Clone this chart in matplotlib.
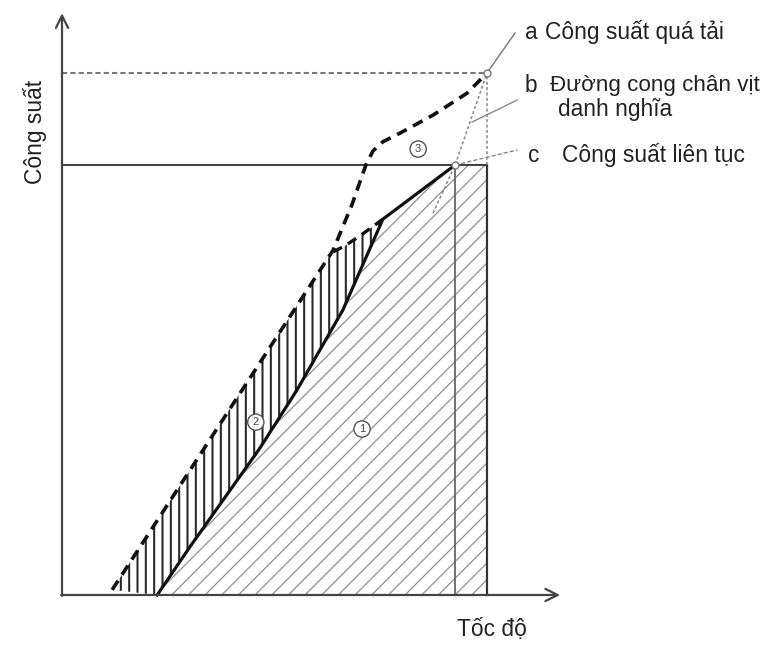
import matplotlib
matplotlib.use("Agg")
import matplotlib.pyplot as plt
import numpy as np

# ---------------- data (speed %, power %) ----------------
overload_x = [11.8, 63.8, 68.2, 71.5, 73.2, 75.5, 79.5, 87.3, 95.3, 100.0]
overload_y = [1.2, 80.2, 90.7, 100.0, 103.3, 105.4, 107.4, 111.6, 116.7, 121.4]

branch_x = [63.8, 66.6, 70.8, 75.5]
branch_y = [79.8, 81.2, 84.0, 87.4]

engine_x = [22.4, 30.1, 46.6, 55.3, 66.1, 75.5, 92.5]
engine_y = [0.0, 11.2, 34.2, 47.7, 66.3, 87.4, 100.0]

prop_x = [87.3, 92.5, 100.0]
prop_y = [88.8, 100.0, 121.4]

continuous_power = 100.0
overload_power = 121.4
rated_speed = 100.0
continuous_speed = 92.5

label_a = "Công suất quá tải"
label_b1 = "Đường cong chân vịt"
label_b2 = "danh nghĩa"
label_c = "Công suất liên tục"
ylabel = "Công suất"
xlabel = "Tốc độ"

plt.rcParams['font.family'] = ['Liberation Sans', 'DejaVu Sans']

fig = plt.figure(figsize=(7.64, 6.45), dpi=100)
ax = fig.add_axes([0, 0, 1, 1])
ax.set_xlim(-14.59, 165.18)
ax.set_ylim(-11.63, 138.37)
ax.axis('off')

# ---------------- hatched regions ----------------
r1x = engine_x + [rated_speed, rated_speed]
r1y = engine_y + [continuous_power, 0.0]
with plt.rc_context({'hatch.linewidth': 0.9}):
    p1 = ax.fill(r1x, r1y, facecolor='none', edgecolor='#909090', hatch='//', linewidth=0)[0]
    if hasattr(p1, 'set_hatch_linewidth'):
        p1.set_hatch_linewidth(0.9)

i_knee = 1
r2x = overload_x[:i_knee + 1] + branch_x[1:] + engine_x[:-1][::-1]
r2y = overload_y[:i_knee + 1] + branch_y[1:] + engine_y[:-1][::-1]
with plt.rc_context({'hatch.linewidth': 1.5}):
    p2 = ax.fill(r2x, r2y, facecolor='none', edgecolor='#2a2a2a', hatch='||', linewidth=0)[0]
    if hasattr(p2, 'set_hatch_linewidth'):
        p2.set_hatch_linewidth(1.5)

# ---------------- reference lines ----------------
ax.plot([0, rated_speed], [continuous_power, continuous_power], color='#444444', lw=1.5)
ax.plot([rated_speed, rated_speed], [0, continuous_power], color='#333333', lw=1.6)
ax.plot([continuous_speed, continuous_speed], [0, continuous_power], color='#666666', lw=1.3)
ax.plot([0, rated_speed], [overload_power, overload_power], color='#777777', lw=1.5,
        linestyle=(0, (2.5, 1.5)))
ax.plot([rated_speed, rated_speed], [continuous_power, overload_power], color='#888888',
        lw=1.1, linestyle=(0, (2, 1.5)))

# propeller curve b
ax.plot(prop_x, prop_y, color='#888888', lw=1.1, linestyle=(0, (2, 1.5)))

# overload curve a (dashed) and branch
ax.plot(overload_x, overload_y, color='#111111', lw=2.6, linestyle=(0, (3, 2)))
ax.plot(branch_x, branch_y, color='#111111', lw=2.4, linestyle=(0, (3, 2)))

# engine curve (solid)
ax.plot(engine_x, engine_y, color='#111111', lw=2.3)

# leader lines
ax.plot([rated_speed, 106.6], [overload_power, 130.7], color='#777777', lw=1.0)
ax.plot([96.5, 107.1], [110.0, 115.1], color='#888888', lw=1.0)
ax.plot([continuous_speed, 107.1], [continuous_power, 103.5], color='#888888', lw=1.0,
        linestyle=(0, (3, 1.5)))

# small circle markers
ax.plot([rated_speed, continuous_speed], [overload_power, continuous_power], 'o',
        ms=5, mfc='white', mec='#777777', mew=1.0)

# ---------------- axes arrows ----------------
ax.annotate('', xy=(0, 135.3), xytext=(0, -0.2),
            arrowprops=dict(arrowstyle='->', lw=1.6, color='#444444',
                            mutation_scale=22, shrinkA=0, shrinkB=0))
ax.annotate('', xy=(117.2, 0), xytext=(-0.2, 0),
            arrowprops=dict(arrowstyle='->', lw=1.6, color='#444444',
                            mutation_scale=22, shrinkA=0, shrinkB=0))

# ---------------- circled region numbers ----------------
circ = dict(boxstyle='circle,pad=0.28', fc='white', ec='#555555', lw=1.0)
ax.text(83.8, 103.7, '3', fontsize=8, ha='center', va='center', bbox=circ, color='#444444')
ax.text(45.6, 40.2, '2', fontsize=8, ha='center', va='center', bbox=circ, color='#444444')
ax.text(70.6, 38.6, '1', fontsize=8, ha='center', va='center', bbox=circ, color='#444444')

# ---------------- texts ----------------
fs = 16.4
tc = '#222222'
ax.text(-6.35, 107.7, ylabel, rotation=90, fontsize=fs, ha='center', va='center', color=tc)
ax.text(101.2, -8.1, xlabel, fontsize=fs, ha='center', va='center', color=tc)

ax.text(108.9, 130.9, 'a', fontsize=fs, ha='left', va='center', color=tc)
ax.text(113.6, 130.9, label_a, fontsize=fs, ha='left', va='center', color=tc)
ax.text(108.9, 118.6, 'b', fontsize=fs, ha='left', va='center', color=tc)
ax.text(114.9, 118.6, label_b1, fontsize=16.1, ha='left', va='center', color=tc)
ax.text(116.7, 112.8, label_b2, fontsize=fs, ha='left', va='center', color=tc)
ax.text(109.6, 102.3, 'c', fontsize=fs, ha='left', va='center', color=tc)
ax.text(117.6, 102.3, label_c, fontsize=fs, ha='left', va='center', color=tc)

fig.savefig('out.png', dpi=100)
